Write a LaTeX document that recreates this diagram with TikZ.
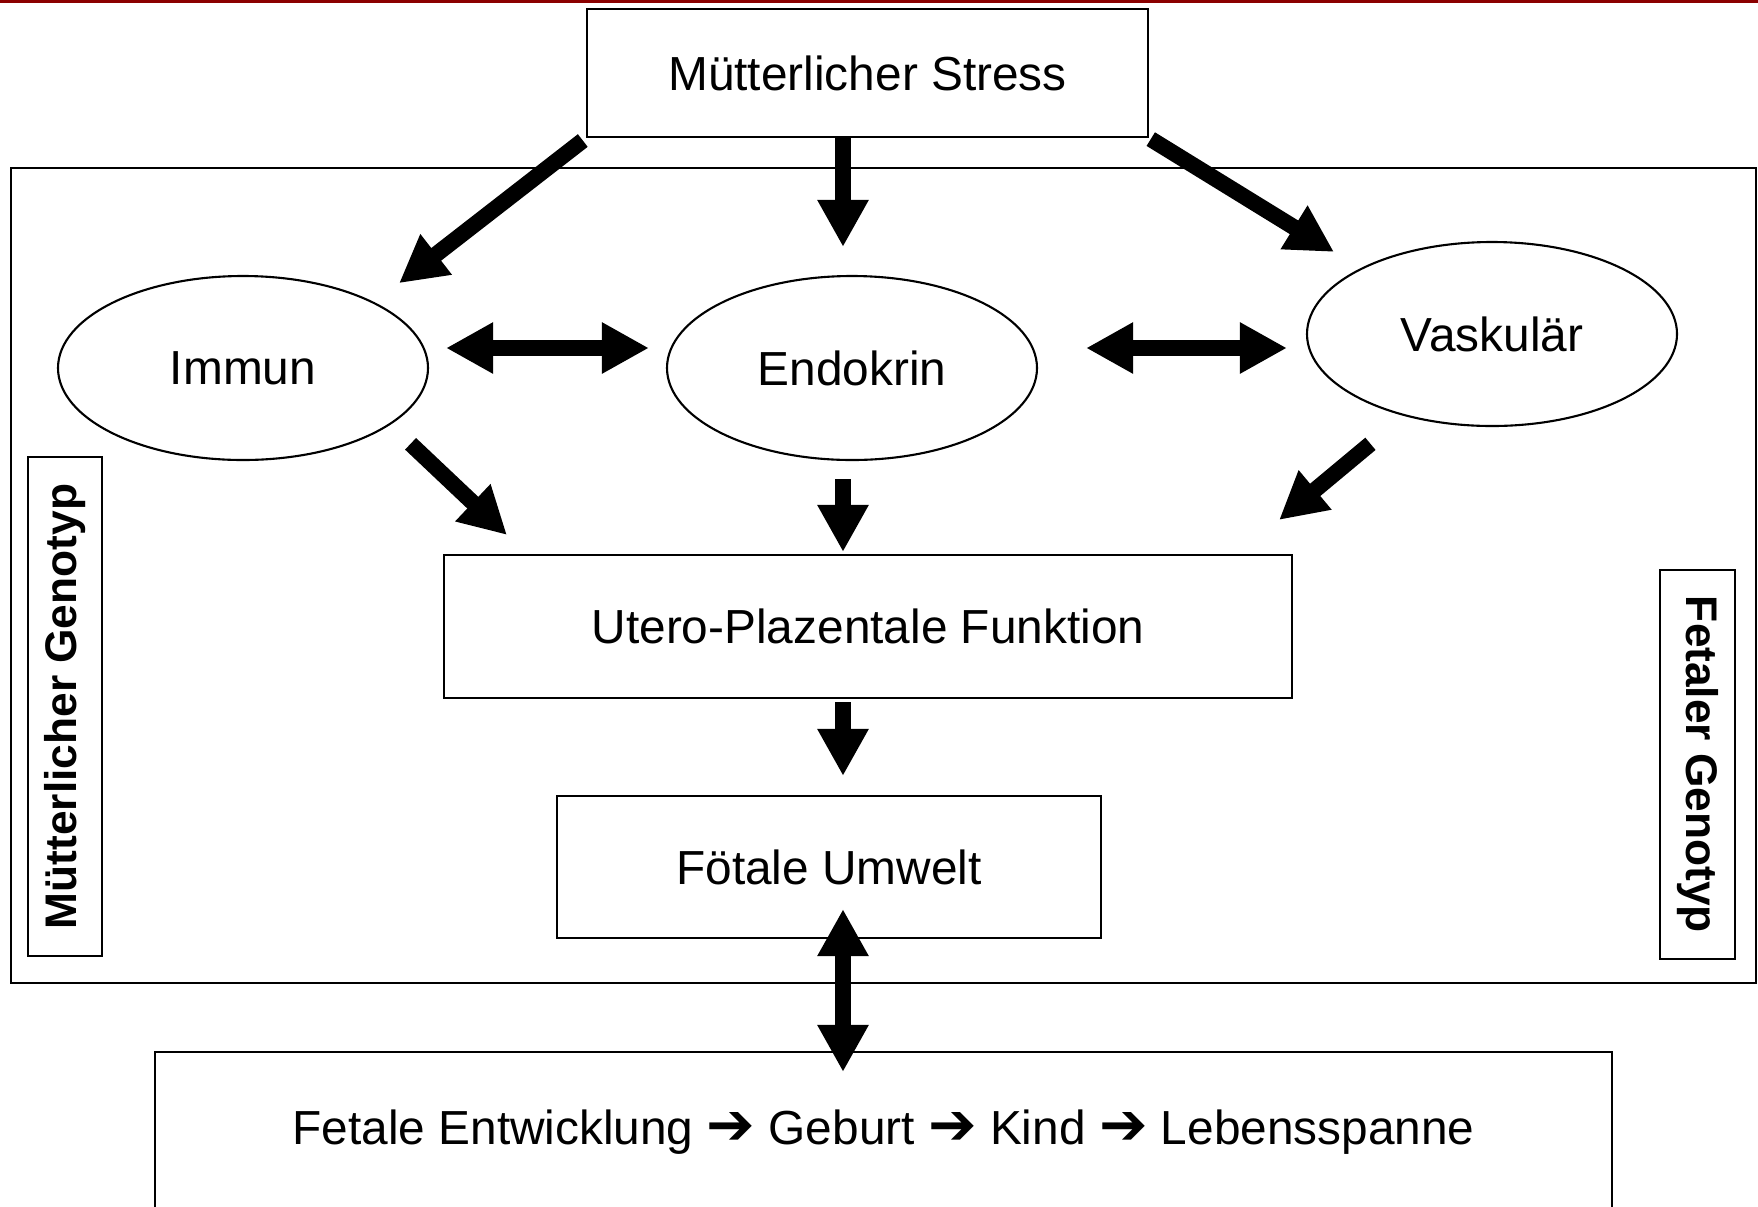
\documentclass[tikz,border=0pt]{standalone}
\usepackage{fontspec}
\setmainfont{Liberation Sans}
\newfontfamily\symfont{DejaVu Sans}
\usetikzlibrary{arrows.meta, calc, shapes.geometric}
\definecolor{barRed}{RGB}{139,0,0}
\definecolor{lineInk}{RGB}{0,0,0}
\newcommand{\stepto}{{\symfont\fontsize{16.5}{16}\selectfont ➔}}

\begin{document}
\begin{tikzpicture}[font=\fontsize{13.6}{16}\selectfont,
  box/.style={draw=lineInk,line width=0.6pt,fill=white,inner sep=0pt},
  oval/.style={ellipse,draw=lineInk,line width=0.6pt,fill=white,inner sep=0pt,
               minimum width=37mm,minimum height=18.4mm},
  geno/.style={draw=lineInk,line width=0.6pt,fill=white,inner sep=0pt,
               font=\fontsize{12.6}{15}\selectfont\bfseries},
  blk/.style={line width=1.6mm,-{Triangle[length=4.7mm,width=4.8mm]}},
  dblk/.style={line width=1.6mm,
               {Triangle[length=4.7mm,width=4.8mm]}-{Triangle[length=4.7mm,width=4.8mm]}}]
\useasboundingbox (0,0) rectangle (17.58,-12.06);
\fill[barRed] (0,0) rectangle (17.58,-0.03);

% ===== frame + genotype labels =====
\node[box,minimum width=174.5mm,minimum height=81.5mm] (frame) at (8.835,-5.755) {};
\node[geno,rotate=90,minimum width=49.9mm,minimum height=7.4mm] (mgeno) at (0.65,-7.065)
   {Mütterlicher Genotyp};
\node[geno,rotate=-90,minimum width=38.9mm,minimum height=7.5mm] (fgeno) at (16.975,-7.645)
   {Fetaler Genotyp};

% ===== nodes =====
\node[box,minimum width=56.1mm,minimum height=12.8mm] (stress) at (8.675,-0.73)
   {Mütterlicher Stress};
\node[oval] (immun) at (2.43,-3.68) {Immun};
\node[oval] (endo) at (8.52,-3.68) {Endokrin};
\node[oval] (vask) at (14.92,-3.34) {Vaskulär};
\node[box,minimum width=84.8mm,minimum height=14.3mm] (utero) at (8.68,-6.265)
   {Utero-Plazentale Funktion};
\node[box,minimum width=54.4mm,minimum height=14.2mm] (foetal) at (8.29,-8.67)
   {Fötale Umwelt};
\node[box,minimum width=145.7mm,minimum height=16mm] (lebens) at (8.835,-11.32)
   {Fetale Entwicklung \stepto{} Geburt \stepto{} Kind \stepto{} Lebensspanne};

% ===== arrows =====
\coordinate (spine) at (8.43,0);
\draw[blk,shorten <=0.4mm,shorten >=3.1mm] (stress.south west) -- (immun.north east);
\draw[blk,shorten >=2.8mm] (stress.south -| spine) -- (endo.north -| spine);
\draw[blk,shorten <=0.2mm,shorten >=3.1mm] (stress.south east) -- (vask.north west);
\draw[dblk] ($(immun.east)+(0.17,0.2)$) -- ($(endo.west)+(-0.17,0.2)$);
\draw[dblk] ($(endo.east)+(0.48,0.2)$) -- ($(vask.west |- endo.east)+(-0.19,0.2)$);
\draw[blk] ($(immun.south east)+(0.36,-0.10)$) -- ($(utero.north west)+(0.64,0.19)$);
\draw[blk,shorten <=1.8mm,shorten >=0.2mm] (endo.south -| spine) -- (utero.north -| spine);
\draw[blk] ($(vask.south west)+(0.10,-0.44)$) -- ($(utero.north east)+(-0.14,0.34)$);
\draw[blk,shorten <=0.3mm,shorten >=1.9mm] (utero.south -| spine) -- (foetal.north -| spine);
\draw[dblk] ($(foetal.south -| spine)+(0,0.30)$) -- ($(lebens.north -| spine)+(0,-0.21)$);
\end{tikzpicture}
\end{document}
